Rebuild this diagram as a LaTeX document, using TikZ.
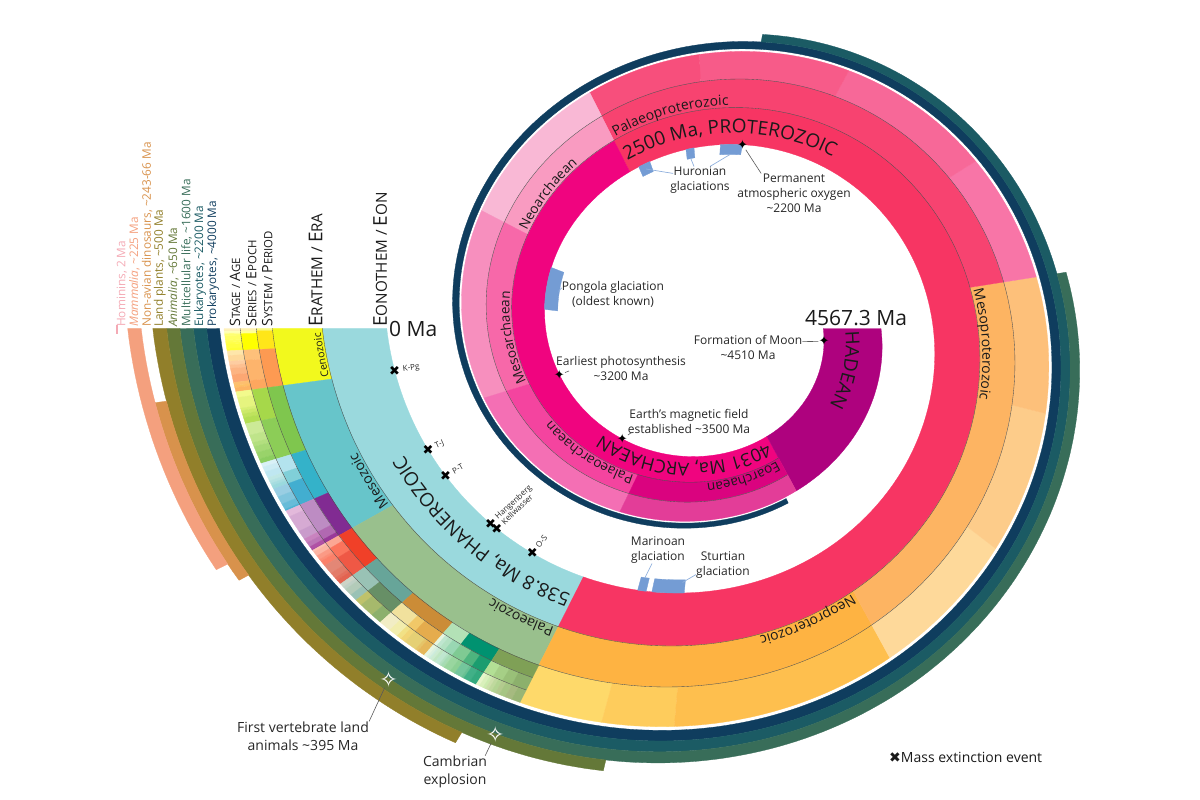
\documentclass[tikz,border=0pt]{standalone}
\usepackage{fontspec}
\setmainfont{Open Sans}
\newfontfamily\symf{DejaVu Sans}
\usetikzlibrary{decorations.text}
\newcommand\tld{\textasciitilde}
\definecolor{labc}{HTML}{1A1A1A}
\definecolor{glac}{HTML}{749CD4}
\definecolor{cProk}{HTML}{0F3D5E}
\definecolor{cEuk}{HTML}{1B5B64}
\definecolor{cMulti}{HTML}{386D59}
\definecolor{cAnim}{HTML}{647838}
\definecolor{cLand}{HTML}{917F2A}
\definecolor{cDino}{HTML}{D8924C}
\definecolor{cMamm}{HTML}{F4A07E}
\definecolor{cHom}{HTML}{F4AAB5}
\newcommand\seg[5]{%
  \pgfmathsetmacro\tA{180+0.118232*(#1)}%
  \pgfmathsetmacro\tB{180+0.118232*(#2)}%
  \pgfmathtruncatemacro\ns{max(2,(\tB-\tA)/1.2+2)}%
  \fill[#5,draw=#5,line width=0.3pt,line join=round] plot[domain=\tA:\tB,samples=\ns] ({pX(\x,#3,0)},{pY(\x,#3,0)}) -- plot[domain=\tB:\tA,samples=\ns] ({pX(\x,#4,0)},{pY(\x,#4,0)}) -- cycle;}
\newcommand\segh[5]{\definecolor{tmpc}{HTML}{#5}\seg{#1}{#2}{#3}{#4}{tmpc}}
\newcommand\sline[3]{%
  \pgfmathsetmacro\tA{180+0.118232*(#1)}%
  \pgfmathsetmacro\tB{180+0.118232*(#2)}%
  \pgfmathtruncatemacro\ns{max(2,(\tB-\tA)/1.2+2)}%
  \draw[sepline] plot[domain=\tA:\tB,samples=\ns] ({pX(\x,#3,0)},{pY(\x,#3,0)});}
\newcommand\arclab[6]{%
  \pgfmathsetmacro\tA{180+0.118232*(#1)}%
  \pgfmathsetmacro\tB{180+0.118232*(#2)}%
  \path[decorate,decoration={text along path,text align={left,left indent=3pt},text color=labc,text={|\fontsize{#5}{#5}\selectfont|#6}}] plot[domain=0:1,samples=120] ({pX(\tA-\x*(\tA-\tB),#3,#4)},{pY(\tA-\x*(\tA-\tB),#3,#4)});}
\newcommand\scA[2]{{\fontsize{19}{19}\selectfont #1}{\fontsize{15.2}{15.2}\selectfont #2}}
\newcommand\scB[2]{{\fontsize{14.3}{14.3}\selectfont #1}{\fontsize{11.4}{11.4}\selectfont #2}}
\begin{document}
\begin{tikzpicture}[x=1pt,y=1pt,
  declare function={Rs(\rr)=315*exp(-0.0020169*(\rr-180));
    Sx(\ss)=(\ss<360) ? 1.023 : ((\ss<540) ? (1.023+0.024*(1-cos(\ss-360))) : (1.071+0.00003*(\ss-540)));
    pX(\vA,\vB,\vC)=709+Sx(\vA)*(\vB*Rs(\vA)+\vC)*cos(\vA);
    pY(\vA,\vB,\vC)=471.5+(\vB*Rs(\vA)+\vC)*sin(\vA);
    tm(\mm)=180+0.118232*\mm;},
  sepline/.style={draw=black!70,line width=0.35pt},
  leader/.style={draw=black!65,line width=0.6pt},
  gleader/.style={draw=glac!80,line width=0.7pt},
  ann/.style={font=\fontsize{12}{15}\selectfont,text=black!85,align=center,inner sep=0pt},
  annb/.style={font=\fontsize{14}{18}\selectfont,text=black!85,align=center,inner sep=0pt},
  lifelab/.style={rotate=90,anchor=west,inner sep=0pt,font=\fontsize{11.8}{12}\selectfont},
  hdr/.style={rotate=90,anchor=base west,inner sep=0pt,text=labc},
  xmark/.style={font=\symf\fontsize{13}{13}\selectfont,inner sep=0pt,text=black},
  xlab/.style={font=\fontsize{8}{8}\selectfont,inner sep=0pt,text=black!85},
  bstar/.style={font=\symf\fontsize{13}{13}\selectfont,inner sep=0pt,text=black},
  wstar/.style={font=\symf\fontsize{22}{22}\selectfont,inner sep=0pt,text=white}]
\useasboundingbox (0,0) rectangle (1200,800);
% ---------- eons
\segh{0}{538.8}{1}{1.2}{9AD9DD}
\segh{538.8}{2500}{1}{1.2}{F73563}
\segh{2500}{4031}{1}{1.2}{F0047F}
\segh{4031}{4567.3}{1}{1.505}{AE027E}
% ---------- eras
\foreach \ma/\mb/\cc in {0/66/F2F91D,66/251.9/67C5CA,251.9/538.8/99C08D,538.8/1000/FEB342,1000/1600/FDB462,1600/2500/F74370,2500/2800/F99BC1,2800/3200/F768A9,3200/3600/F4449F,3600/4031/DA037F}{\segh{\ma}{\mb}{1.2}{1.355}{\cc}}
% ---------- Precambrian periods
\foreach \ma/\mb/\cc in {538.8/635/FED96A,635/720/FECC5C,720/1000/FEBF4E,1000/1200/FED99A,1200/1400/FDCC8A,1400/1600/FDC07A,1600/1800/F875A7,1800/2050/F76898,2050/2300/F75B89,2300/2500/F74F7C,2500/2800/F9B8D5,2800/3200/F78FBE,3200/3600/F46FB4,3600/4031/E33D98}{\segh{\ma}{\mb}{1.355}{1.505}{\cc}}
% ---------- Phanerozoic periods
\foreach \ma/\mb/\cc in {0/2.58/F9F97F,2.58/23.03/FFE619,23.03/66/FD9A52,66/145/7FC64E,145/201.4/34B2C9,201.4/251.9/812B92,251.9/298.9/F04028,298.9/358.9/67A599,358.9/419.2/CB8C37,419.2/443.8/B3E1B6,443.8/485.4/009270,485.4/538.8/7FA056}{\segh{\ma}{\mb}{1.355}{1.405}{\cc}}
% ---------- series
\foreach \ma/\mb/\cc in {0/2.58/FFF2AE,2.58/5.333/FFFF99,5.333/23.03/FFFF00,23.03/33.9/FEC07A,33.9/56/FDB46C,56/66/FDA75F,66/100.5/A6D84A,100.5/145/8CCD57,145/161.5/B3E3EE,161.5/174.7/80CFD8,174.7/201.4/42AED0,201.4/237/BD8CC3,237/247.2/B168B1,247.2/251.9/983999,251.9/259.51/FBA794,259.51/273.01/FB745C,273.01/298.9/EF5845,298.9/323.2/99C2B5,323.2/358.9/678F66,358.9/382.7/F1E19D,382.7/393.3/F1C868,393.3/419.2/E5AC4D,419.2/423/E6F5E1,423/427.4/BFE6CF,427.4/433.4/B3E1C2,433.4/443.8/99D7B3,443.8/458.4/7FCA93,458.4/470/4DB47E,470/485.4/1A9D6F,485.4/497/B3E095,497/509/A6CF86,509/521/99C078,521/538.8/8CB06C}{\segh{\ma}{\mb}{1.405}{1.455}{\cc}}
% ---------- stages
\foreach \ma/\mb/\cc in {0/0.774/FFF2C7,0.774/1.8/FFF2BA,1.8/2.58/FFEDB3,2.58/3.6/FFFFBF,3.6/5.333/FFFFB3,5.333/7.246/FFFF73,7.246/11.63/FFFF66,11.63/13.82/FFFF59,13.82/15.98/FFFF4D,15.98/20.44/FFFF41,20.44/23.03/FFFF33,23.03/27.82/FEE6AA,27.82/33.9/FED99A,33.9/37.71/FDCDA1,37.71/41.2/FDC091,41.2/47.8/FCB482,47.8/56/FCA773,56/59.2/FDBF6F,59.2/61.6/FEBF65,61.6/66/FDB462,66/72.1/F2FA8C,72.1/83.6/E6F47F,83.6/86.3/D9EF74,86.3/89.8/CCE968,89.8/93.9/BFE35D,93.9/100.5/B3DE53,100.5/113/CCEA97,113/121.4/BFE48A,121.4/125.77/B3DF7F,125.77/132.6/A6D975,132.6/139.8/99D36A,139.8/145/8CCD60,145/149.2/D9F1F7,149.2/154.8/CCECF4,154.8/161.5/BFE7F1,161.5/165.3/BFE7E5,165.3/168.2/B3E2E3,168.2/170.9/A6DDE0,170.9/174.7/9AD9DD,174.7/184.2/99CEE3,184.2/192.9/80C5DD,192.9/199.5/67BCD8,199.5/201.4/4EB3D3,201.4/208.5/E3B9DB,208.5/227/D6AAD3,227/237/C99BCB,237/242/C983BF,242/247.2/BC75B7,247.2/251.2/B051A5,251.2/251.9/A4469F,251.9/254.14/FCC0B2,254.14/259.51/FCB4A2,259.51/264.28/FB9A85,264.28/266.9/FB8D76,266.9/273.01/FB8069,273.01/283.5/E38776,283.5/290.1/E37B68,290.1/293.52/E36F5C,293.52/298.9/E36350,298.9/303.7/CCD4C7,303.7/307/BFD0C5,307/315.2/B3CBB9,315.2/323.2/99C2B5,323.2/330.9/BFC26B,330.9/346.7/A6B96C,346.7/358.9/8CB06C,358.9/372.2/F2EDC5,372.2/382.7/F2EDAD,382.7/387.7/F1E185,387.7/393.3/F1D576,393.3/407.6/E5D075,407.6/410.8/E5C468,410.8/419.2/E5B75A,419.2/423/E6F5E1,423/425.6/D9F0DF,425.6/427.4/CCECDD,427.4/430.5/CCEBD1,430.5/433.4/BFE6C3,433.4/438.5/BFE6CF,438.5/440.8/B3E1C2,440.8/443.8/A6DCB5,443.8/445.2/A6DBAB,445.2/453/99D69F,453/458.4/8CD094,458.4/467.3/74C69C,467.3/470/66C092,470/477.7/41B087,477.7/485.4/33A97E,485.4/489.5/E6F5C9,489.5/494/D9F0BB,494/497/CCEBAE,497/500.5/CCDFAA,500.5/504.5/BFD99D,504.5/509/B3D492,509/514/B3CA8E,514/521/A6C583,521/529/A6BA80,529/538.8/99B575}{\segh{\ma}{\mb}{1.455}{1.505}{\cc}}
% ---------- separator lines
\sline{0}{4031}{1.2}
\sline{0}{4031}{1.355}
\sline{0}{538.8}{1.405}
\sline{0}{538.8}{1.455}
% ---------- life bars
\seg{0}{4000}{1.519}{1.559}{cProk}
\seg{0}{2200}{1.559}{1.600}{cEuk}
\seg{0}{1600}{1.600}{1.642}{cMulti}
\seg{0}{650}{1.642}{1.683}{cAnim}
\seg{0}{500}{1.683}{1.726}{cLand}
\seg{66}{243}{1.726}{1.762}{cDino}
\seg{0}{225}{1.762}{1.804}{cMamm}
\fill[cHom] (115.5,466) rectangle (118,475);
% ---------- glaciations
\seg{2441}{2473}{0.94}{1}{glac}
\seg{2322}{2343}{0.945}{1}{glac}
\seg{2200}{2255}{0.945}{1}{glac}
\seg{2855}{2985}{0.92}{1}{glac}
\seg{635}{650}{0.95}{1}{glac}
\seg{660}{717}{0.95}{1}{glac}
% ---------- arc labels
\arclab{538.8}{0}{1.1}{-6.8}{19}{538.8 Ma, PHANEROZOIC}
\arclab{2500}{538.8}{1.1}{-6.8}{19}{2500 Ma, PROTEROZOIC}
\arclab{4031}{2500}{1.1}{-6.4}{18}{4031 Ma, ARCHAEAN}
\arclab{4567.3}{4031}{1.2525}{-6.8}{19}{HADEAN}
\arclab{66}{0}{1.2}{2}{10.5}{Cenozoic}
\arclab{251.9}{66}{1.2}{2.5}{14}{Mesozoic}
\arclab{538.8}{251.9}{1.2}{2.5}{14}{Palaeozoic}
\arclab{1000}{538.8}{1.2}{2.5}{14}{Neoproterozoic}
\arclab{1600}{1000}{1.2}{2.5}{14}{Mesoproterozoic}
\arclab{2500}{1600}{1.2}{2.5}{14}{Palaeoproterozoic}
\arclab{2800}{2500}{1.2}{2}{13.5}{Neoarchaean}
\arclab{3200}{2800}{1.2}{2}{13.5}{Mesoarchaean}
\arclab{3600}{3200}{1.2}{2}{13.5}{Palaeoarchaean}
\arclab{4031}{3600}{1.2}{2}{13.5}{Eoarchaean}
% ---------- mass extinctions
\foreach \m/\nm/\id in {66/K-Pg/kpg,201.4/T-J/tj,251.9/P-T/pt,358.9/Hangenberg/hb,372.2/Kellwasser/kw,443.8/O-S/os}{
  \pgfmathsetmacro\thx{180+0.118232*\m}
  \pgfmathsetmacro\rot{\thx-180}
  \node[xmark] (x\id) at ({pX(\thx,1,0)},{pY(\thx,1,0)}) {✖};
  \node[xlab,rotate=\rot,anchor=west] (l\id) at ({pX(\thx,1,-8)},{pY(\thx,1,-8)}) {\nm};
}
% ---------- header labels
\node[hdr] (hEon) at (386.8,473) {\scA{E}{ONOTHEM / }\scA{E}{ON}};
\node[hdr] (hEra) at (322.4,473) {\scA{E}{RATHEM / }\scA{E}{RA}};
\node[hdr] (hPer) at (272.4,473) {\scB{S}{YSTEM / }\scB{P}{ERIOD}};
\node[hdr] (hSer) at (256.3,473) {\scB{S}{ERIES / }\scB{E}{POCH}};
\node[hdr] (hSta) at (240.2,473) {\scB{S}{TAGE / }\scB{A}{GE}};
\node[anchor=base west,inner sep=0pt,font=\fontsize{21}{21}\selectfont,text=labc] (zeroMa) at (389,463) {0 Ma};
\node[anchor=base west,inner sep=0pt,font=\fontsize{21}{21}\selectfont,text=labc] (endMa) at (805,474) {4567.3 Ma};
% ---------- life labels
\node[lifelab,text=cProk] (tProk) at (213.1,473) {Prokaryotes, \tld4000 Ma};
\node[lifelab,text=cEuk] (tEuk) at (200.1,473) {Eukaryotes, \tld2200 Ma};
\node[lifelab,text=cMulti] (tMulti) at (186.7,473) {Multicellular life, \tld1600 Ma};
\node[lifelab,text=cAnim] (tAnim) at (173.3,473) {\textit{Animalia}, \tld650 Ma};
\node[lifelab,text=cLand] (tLand) at (159.8,473) {Land plants, \tld500 Ma};
\node[lifelab,text=cDino] (tDino) at (147.1,473) {Non-avian dinosaurs, \tld243-66 Ma};
\node[lifelab,text=cMamm] (tMamm) at (134.5,473) {\textit{Mammalia}, \tld225 Ma};
\node[lifelab,text=cHom] (tHom) at (121.9,473) {Hominins, 2 Ma};
% ---------- event stars
\node[bstar] (sMoon) at ({pX(tm(4510),1,0)},{pY(tm(4510),1,0)}) {✦};
\node[bstar] (sPhoto) at ({pX(tm(3200),1,0)},{pY(tm(3200),1,0)}) {✦};
\node[bstar] (sMag) at ({pX(tm(3500),1,0)},{pY(tm(3500),1,0)}) {✦};
\node[bstar] (sOxy) at ({pX(tm(2200),1,0)},{pY(tm(2200),1,0)}) {✦};
\node[wstar] (sVert) at ({pX(tm(408),1.645,0)},{pY(tm(408),1.645,0)}) {✧};
\node[wstar] (sCamb) at ({pX(tm(531),1.645,0)},{pY(tm(531),1.645,0)}) {✧};
\coordinate (gH1) at ({pX(tm(2457),0.97,0)},{pY(tm(2457),0.97,0)});
\coordinate (gH2) at ({pX(tm(2333),0.945,0)},{pY(tm(2333),0.945,0)});
\coordinate (gH3) at ({pX(tm(2228),0.945,0)},{pY(tm(2228),0.945,0)});
\coordinate (gPo) at ({pX(tm(2920),0.925,0)},{pY(tm(2920),0.925,0)});
\coordinate (gMa) at ({pX(tm(642),0.95,0)},{pY(tm(642),0.95,0)});
\coordinate (gSt) at ({pX(tm(712),0.96,0)},{pY(tm(712),0.96,0)});
% ---------- annotation labels
\node[ann] (moonlab) at (748,453) {Formation of Moon\\\tld4510 Ma};
\node[ann] (photolab) at (621,431) {Earliest photosynthesis\\\tld3200 Ma};
\node[ann] (maglab) at (689,379) {Earth's magnetic field\\established \tld3500 Ma};
\node[ann] (oxylab) at (794,607) {Permanent\\atmospheric oxygen\\\tld2200 Ma};
\node[ann] (huronlab) at (700,620) {Huronian\\glaciations};
\node[ann] (pongolab) at (613,506) {Pongola glaciation\\(oldest known)};
\node[ann] (marilab) at (658,250) {Marinoan\\glaciation};
\node[ann] (sturtlab) at (723,235) {Sturtian\\glaciation};
\node[annb] (vertlab) at (303,64) {First vertebrate land\\animals \tld395 Ma};
\node[annb] (cambrlab) at (455,28) {Cambrian\\explosion};
\node[anchor=base west,inner sep=0pt,font=\fontsize{14}{14}\selectfont,text=labc] (legend) at (889,37) {{\symf ✖}Mass extinction event};
% ---------- leaders
\draw[leader] (sMoon) -- ([yshift=-7pt]moonlab.north east);
\draw[leader] (sPhoto) -- ([xshift=13pt,yshift=-2pt]photolab.west);
\draw[leader] (sMag) -- ([xshift=4pt,yshift=1pt]maglab.south west);
\draw[leader] (sOxy) -- ([xshift=24pt]oxylab.north west);
\draw[leader] (sVert) -- (vertlab.north east);
\draw[leader] (sCamb) -- ([xshift=-2pt]cambrlab.north east);
\draw[gleader] (gH1) -- ([xshift=3pt,yshift=-7pt]huronlab.north west);
\draw[gleader] (gH2) -- ([xshift=-6pt]huronlab.north);
\draw[gleader] (gH3) -- ([xshift=10pt]huronlab.north);
\draw[gleader] (gPo) -- ([yshift=-7pt]pongolab.north west);
\draw[gleader] (gMa) -- ([xshift=-6pt]marilab.south);
\draw[gleader] (gSt) -- ([yshift=4pt]sturtlab.south west);
\end{tikzpicture}
\end{document}
